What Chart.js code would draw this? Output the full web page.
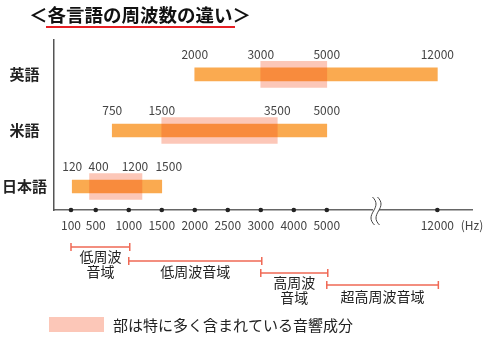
<!DOCTYPE html>
<html>
<head>
<meta charset="utf-8">
<script src="https://cdn.jsdelivr.net/npm/chart.js@4"></script>
<style>
  html, body { margin: 0; padding: 0; background: #fff; }
  #wrap { width: 487px; height: 339px; position: relative; }
</style>
</head>
<body>
<div id="wrap"><canvas id="freqChart"></canvas></div>
<script>
// languages and their frequency ranges (Hz)
const languages = ['英語', '米語', '日本語'];
const fullRanges = [[2000, 12000], [750, 5000], [120, 1500]];
const mainRanges = [[3000, 5000], [1500, 3500], [400, 1200]];
const rangeLabels = [
    [2000, 3000, 5000, 12000],
    [750, 1500, 3500, 5000],
    [120, 400, 1200, 1500]
];

// x axis ticks (axis is broken between 5000 and 12000)
const tickFreqs = [100, 500, 1000, 1500, 2000, 2500, 3000, 4000, 5000, 12000];
const tickPos = [0, 0.75, 1.75, 2.75, 3.75, 4.75, 5.75, 6.75, 7.75, 11.1];

// frequency bands under the axis
const bandNames = ['低周波\n音域', '低周波音域', '高周波\n音域', '超高周波音域'];
const bandRanges = [[100, 1000], [1000, 3000], [3000, 5000], [5000, 12000]];

const titleText = '＜各言語の周波数の違い＞';
const legendText = '部は特に多く含まれている音響成分';

const orange = 'rgb(250,170,80)';
const pink = 'rgba(245,70,20,0.3)';
const pinkSolid = 'rgb(252,199,184)';
const jpFont = '"Noto Sans CJK JP", "Noto Sans", sans-serif';

// the small labels of the 日本語 row are pushed apart so they don't collide
const labelNudge = [[0, 0, 0, 0], [0, 0, 0, 0], [0, 9, -7, 7]];

// map a frequency to its place on the broken axis
function freqToPos(f) {
    for (let i = 0; i < tickFreqs.length - 1; i++) {
        if (f <= tickFreqs[i + 1]) {
            const t = (f - tickFreqs[i]) / (tickFreqs[i + 1] - tickFreqs[i]);
            return tickPos[i] + t * (tickPos[i + 1] - tickPos[i]);
        }
    }
    return tickPos[tickPos.length - 1];
}

const fullData = fullRanges.map((r, i) => ({ x: [freqToPos(r[0]), freqToPos(r[1])], y: i }));
const mainData = mainRanges.map((r, i) => ({ x: [freqToPos(r[0]), freqToPos(r[1])], y: i }));

const extras = {
    id: 'extras',
    afterDraw(chart) {
        const ctx = chart.ctx;
        const xs = chart.scales.x;
        const ys = chart.scales.y;
        const area = chart.chartArea;
        ctx.save();

        // title + red underline
        ctx.fillStyle = '#111';
        ctx.font = 'bold 18.5px ' + jpFont;
        ctx.textAlign = 'center';
        ctx.textBaseline = 'middle';
        ctx.fillText(titleText, 140, 15);
        ctx.strokeStyle = 'rgb(230,30,35)';
        ctx.lineWidth = 2;
        ctx.beginPath();
        ctx.moveTo(46, 27);
        ctx.lineTo(235, 27);
        ctx.stroke();

        // value labels over the bars
        ctx.fillStyle = '#444';
        ctx.font = '12px ' + jpFont;
        rangeLabels.forEach((vals, i) => {
            const y = ys.getPixelForValue(i) - 20;
            vals.forEach((v, k) => {
                ctx.fillText(String(v), xs.getPixelForValue(freqToPos(v)) + labelNudge[i][k], y);
            });
        });

        // dots on the axis
        ctx.fillStyle = '#222';
        tickPos.forEach(p => {
            ctx.beginPath();
            ctx.arc(xs.getPixelForValue(p), area.bottom, 2.3, 0, Math.PI * 2);
            ctx.fill();
        });

        // axis break
        const bx = 376;
        ctx.fillStyle = '#fff';
        ctx.fillRect(bx - 3, area.bottom - 3, 6, 6);
        ctx.strokeStyle = '#444';
        ctx.lineWidth = 1;
        [-2.5, 2.5].forEach(dx => {
            const x0 = bx + dx;
            ctx.beginPath();
            ctx.moveTo(x0 - 1, 197);
            ctx.bezierCurveTo(x0 + 4, 202, x0 + 3, 206, x0, 211);
            ctx.bezierCurveTo(x0 - 3, 216, x0 - 4, 220, x0 + 1, 225);
            ctx.stroke();
        });

        // (Hz)
        ctx.fillStyle = '#444';
        ctx.font = '12px ' + jpFont;
        ctx.fillText('(Hz)', 472, 225);

        // frequency band brackets
        const bandY = [247, 261, 273, 285];
        const labelY = [[257, 272], [272], [283, 298], [297]];
        ctx.strokeStyle = 'rgb(240,105,85)';
        ctx.lineWidth = 1.5;
        bandRanges.forEach((r, i) => {
            const x1 = xs.getPixelForValue(freqToPos(r[0]));
            const x2 = xs.getPixelForValue(freqToPos(r[1])) + 1;
            const y = bandY[i];
            ctx.beginPath();
            ctx.moveTo(x1, y); ctx.lineTo(x2, y);
            ctx.moveTo(x1, y - 4); ctx.lineTo(x1, y + 4);
            ctx.moveTo(x2, y - 4); ctx.lineTo(x2, y + 4);
            ctx.stroke();
            ctx.fillStyle = '#222';
            ctx.font = '14px ' + jpFont;
            bandNames[i].split('\n').forEach((line, k) => {
                ctx.fillText(line, (x1 + x2) / 2, labelY[i][k]);
            });
        });

        // legend
        ctx.fillStyle = pinkSolid;
        ctx.fillRect(49, 317, 55, 15);
        ctx.fillStyle = '#222';
        ctx.font = '15px ' + jpFont;
        ctx.textAlign = 'left';
        ctx.fillText(legendText, 113, 325);

        ctx.restore();
    }
};

new Chart(document.getElementById('freqChart'), {
    type: 'bar',
    data: {
        datasets: [
            {
                label: legendText,
                data: mainData,
                backgroundColor: pink,
                barThickness: 26,
                order: 0
            },
            {
                label: '範囲',
                data: fullData,
                backgroundColor: orange,
                barThickness: 13,
                order: 1
            }
        ]
    },
    options: {
        indexAxis: 'y',
        responsive: true,
        maintainAspectRatio: false,
        animation: false,
        layout: {
            padding: { top: 40, right: 15, left: 0, bottom: 0 }
        },
        datasets: {
            bar: { grouped: false, borderWidth: 0, borderSkipped: false }
        },
        scales: {
            x: {
                type: 'linear',
                min: -0.515,
                max: 12.15,
                offset: false,
                grid: { display: false, drawTicks: false },
                border: { display: true, color: '#666', width: 1.5 },
                afterBuildTicks: s => { s.ticks = tickPos.map(v => ({ value: v })); },
                afterFit: s => { s.height = 129; s.paddingLeft = 0; s.paddingRight = 0; },
                ticks: {
                    autoSkip: false,
                    maxRotation: 0,
                    padding: 8,
                    color: '#444',
                    font: { family: jpFont, size: 12 },
                    callback: (v, i) => String(tickFreqs[i])
                }
            },
            y: {
                type: 'linear',
                reverse: true,
                min: -0.615,
                max: 2.42,
                offset: false,
                grid: { display: false, drawTicks: false },
                border: { display: true, color: '#555', width: 1.5 },
                afterBuildTicks: s => { s.ticks = languages.map((l, i) => ({ value: i })); },
                afterFit: s => { s.width = 54; s.paddingTop = 0; s.paddingBottom = 0; },
                ticks: {
                    crossAlign: 'center',
                    padding: 7,
                    color: '#222',
                    font: { family: jpFont, size: 15, weight: 'bold' },
                    callback: (v, i) => languages[i]
                }
            }
        },
        plugins: {
            legend: { display: false },
            tooltip: { enabled: false }
        }
    },
    plugins: [extras]
});
</script>
</body>
</html>
